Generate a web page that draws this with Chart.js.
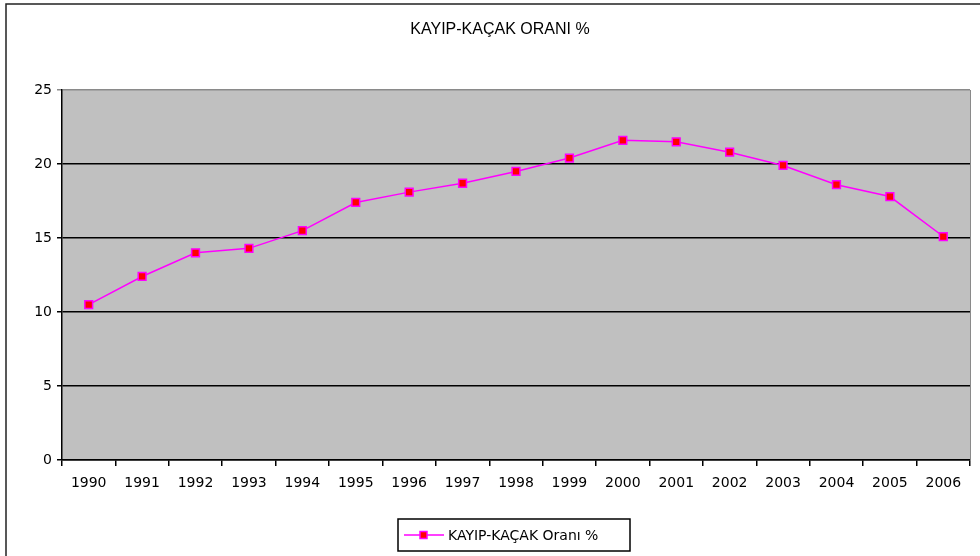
<!DOCTYPE html>
<html>
<head>
<meta charset="utf-8">
<script src="https://cdn.jsdelivr.net/npm/chart.js@4/dist/chart.umd.min.js"></script>
<style>
  html, body { margin: 0; padding: 0; background: #fff; }
  #wrap { width: 980px; height: 556px; position: relative; }
</style>
</head>
<body>
<div id="wrap"><canvas id="lossChart"></canvas></div>
<script>
// Data
const years = ['1990', '1991', '1992', '1993', '1994', '1995', '1996', '1997', '1998',
               '1999', '2000', '2001', '2002', '2003', '2004', '2005', '2006'];
const lossRate = [10.5, 12.4, 14.0, 14.3, 15.5, 17.4, 18.1, 18.7, 19.5,
                  20.4, 21.6, 21.5, 20.8, 19.9, 18.6, 17.8, 15.1];
const yTicks = [0, 5, 10, 15, 20, 25];
const chartTitle = 'KAYIP-KAÇAK ORANI %';
const seriesLabel = 'KAYIP-KAÇAK Oranı %';

const ctx = document.getElementById('lossChart').getContext('2d');

// Gray plot area, outer frame, title, right edge and boxed legend
const excelLook = {
    id: 'excelLook',
    beforeDraw(chart) {
        const { ctx, chartArea: a } = chart;
        ctx.save();
        ctx.fillStyle = '#fff';
        ctx.fillRect(0, 0, chart.width, chart.height);
        ctx.fillStyle = '#c0c0c0';
        ctx.fillRect(a.left, a.top, a.right - a.left, a.bottom - a.top);
        ctx.restore();
    },
    afterDraw(chart) {
        const { ctx, chartArea: a } = chart;
        ctx.save();
        // outer chart frame
        ctx.strokeStyle = '#222';
        ctx.lineWidth = 1.5;
        ctx.strokeRect(6, 4, chart.width + 20, chart.height + 20);

        // title
        ctx.fillStyle = '#000';
        ctx.font = '16px "Liberation Sans"';
        ctx.textAlign = 'center';
        ctx.textBaseline = 'middle';
        ctx.fillText(chartTitle, 500, 30);

        // right edge of plot
        ctx.strokeStyle = '#8a8a8a';
        ctx.lineWidth = 1;
        ctx.beginPath();
        ctx.moveTo(a.right + 0.5, a.top);
        ctx.lineTo(a.right + 0.5, a.bottom);
        ctx.stroke();

        // legend
        const ds = chart.data.datasets[0];
        const bx = 398, by = 519, bw = 232, bh = 32;
        ctx.strokeStyle = '#000';
        ctx.lineWidth = 1.5;
        ctx.strokeRect(bx, by, bw, bh);
        const cy = by + bh / 2;
        ctx.strokeStyle = ds.borderColor;
        ctx.lineWidth = 1.5;
        ctx.beginPath();
        ctx.moveTo(bx + 6, cy);
        ctx.lineTo(bx + 46, cy);
        ctx.stroke();
        ctx.fillStyle = ds.pointBackgroundColor;
        ctx.strokeStyle = ds.pointBorderColor;
        ctx.fillRect(bx + 22, cy - 3.5, 7, 7);
        ctx.strokeRect(bx + 22, cy - 3.5, 7, 7);
        ctx.fillStyle = '#000';
        ctx.font = '14px "DejaVu Sans"';
        ctx.textAlign = 'left';
        ctx.fillText(ds.label, bx + 50, cy + 1);
        ctx.restore();
    }
};

new Chart(ctx, {
    type: 'line',
    data: {
        labels: years,
        datasets: [{
            label: seriesLabel,
            data: lossRate,
            borderColor: '#ff00ff',
            borderWidth: 1.5,
            tension: 0,
            pointStyle: 'rect',
            pointRadius: 5.5,
            pointHoverRadius: 5.5,
            pointBackgroundColor: '#ff0000',
            pointBorderColor: '#ff00ff',
            pointBorderWidth: 1.5
        }]
    },
    options: {
        responsive: true,
        maintainAspectRatio: false,
        animation: false,
        layout: { padding: { top: 90, left: 0, right: 10, bottom: 0 } },
        plugins: {
            legend: { display: false },
            tooltip: { enabled: false },
            title: { display: false }
        },
        scales: {
            x: {
                offset: true,
                grid: {
                    offset: true,
                    drawOnChartArea: false,
                    drawTicks: true,
                    tickLength: 6,
                    color: '#000',
                    lineWidth: 1.5
                },
                border: { color: '#000', width: 1.5 },
                ticks: {
                    color: '#000',
                    font: { family: '"DejaVu Sans"', size: 14 },
                    padding: 9,
                    maxRotation: 0,
                    autoSkip: false
                },
                afterFit(scale) { scale.height = 96; }
            },
            y: {
                min: 0,
                max: 25,
                afterBuildTicks(scale) { scale.ticks = yTicks.map(v => ({ value: v })); },
                grid: {
                    color: c => (c.tick && c.tick.value === 25 ? '#8a8a8a' : '#000'),
                    lineWidth: 1.5,
                    drawTicks: true,
                    tickLength: 5
                },
                border: { color: '#000', width: 1.5 },
                ticks: {
                    color: '#000',
                    font: { family: '"DejaVu Sans"', size: 14 },
                    padding: 5
                },
                afterFit(scale) { scale.width = 62; }
            }
        }
    },
    plugins: [excelLook]
});
</script>
</body>
</html>
